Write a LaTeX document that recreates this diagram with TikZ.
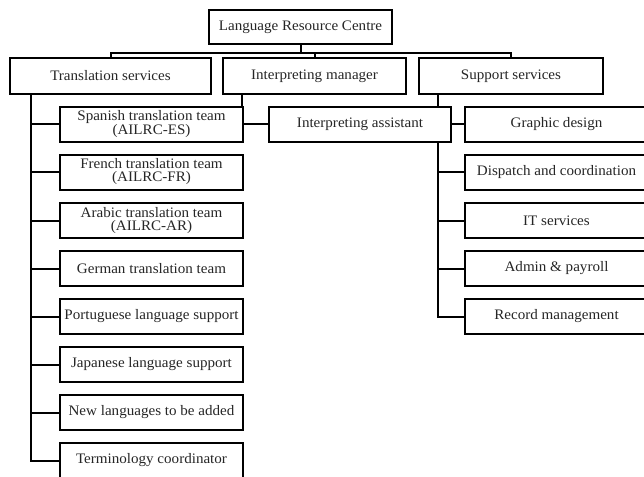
\documentclass[tikz,border=0pt]{standalone}
\usepackage{fontspec}
\setmainfont[FakeStretch=1.04]{Liberation Serif}
\usetikzlibrary{backgrounds,calc}
\begin{document}
\begin{tikzpicture}[x=1pt,y=-1pt,
  box/.style={draw, line width=2pt, fill=white, inner sep=0pt, align=center,
    font=\fontsize{14.5}{13}\selectfont, text=black!85},
  topbox/.style={box, minimum height=36pt},
  colbox/.style={box, minimum width=183pt, minimum height=35pt},
  conn/.style={line width=2pt, line cap=rect}]
\useasboundingbox (0,0) rectangle (644,476);
\clip (0,0) rectangle (644,476);
% top
\node[box, minimum width=183pt, minimum height=34pt] (lrc) at (300.5,27) {Language Resource Centre};
\node[topbox, minimum width=201pt] (ts) at (110.5,76) {Translation services};
\node[topbox, minimum width=183pt] (im) at (314.5,76) {Interpreting manager};
\node[topbox, minimum width=184pt] (ss) at (511,76) {Support services};
% left column
\node[colbox] (es) at (151.5,124) {Spanish translation team\\(AILRC-ES)};
\node[colbox] (fr) at (151.5,172) {French translation team\\(AILRC-FR)};
\node[colbox] (ar) at (151.5,220.5) {Arabic translation team\\(AILRC-AR)};
\node[colbox] (de) at (151.5,268.5) {German translation team};
\node[colbox] (pt) at (151.5,316.5) {Portuguese language support};
\node[colbox] (jp) at (151.5,364.5) {Japanese language support};
\node[colbox] (nl) at (151.5,412.5) {New languages to be added};
\node[colbox] (tc) at (151.5,460.5) {Terminology coordinator};
% middle
\node[colbox, minimum width=182pt] (ia) at (360,124) {Interpreting assistant};
% right column
\node[colbox] (gd) at (556.5,124) {Graphic design};
\node[colbox] (dc) at (556.5,172) {Dispatch and coordination};
\node[colbox] (it) at (556.5,220.5) {IT services};
\node[colbox] (ap) at (556.5,268.5) {Admin \& payroll};
\node[colbox] (rm) at (556.5,316.5) {Record management};
% connectors
\begin{scope}[on background layer]
  \coordinate (bus) at ($(lrc.south)+(0,8)$);
  \draw[conn] (lrc.south) -- (bus);
  \draw[conn] (ts.north) |- (bus) -| (ss.north);
  \draw[conn] (im.north) -- (im.north |- bus);
  % translation trunk
  \coordinate (tst) at ($(ts.south west)+(22,0)$);
  \draw[conn] (tst) |- (tc.west);
  \foreach \n in {es,fr,ar,de,pt,jp,nl}
    \draw[conn] (tst |- \n.west) -- (\n.west);
  % interpreting trunk
  \coordinate (imt) at ($(im.south west)+(20,0)$);
  \draw[conn] (imt) |- (ia.west);
  % support trunk
  \coordinate (sst) at ($(ss.south west)+(20,0)$);
  \draw[conn] (sst) |- (rm.west);
  \foreach \n in {gd,dc,it,ap}
    \draw[conn] (sst |- \n.west) -- (\n.west);
\end{scope}
\end{tikzpicture}
\end{document}
